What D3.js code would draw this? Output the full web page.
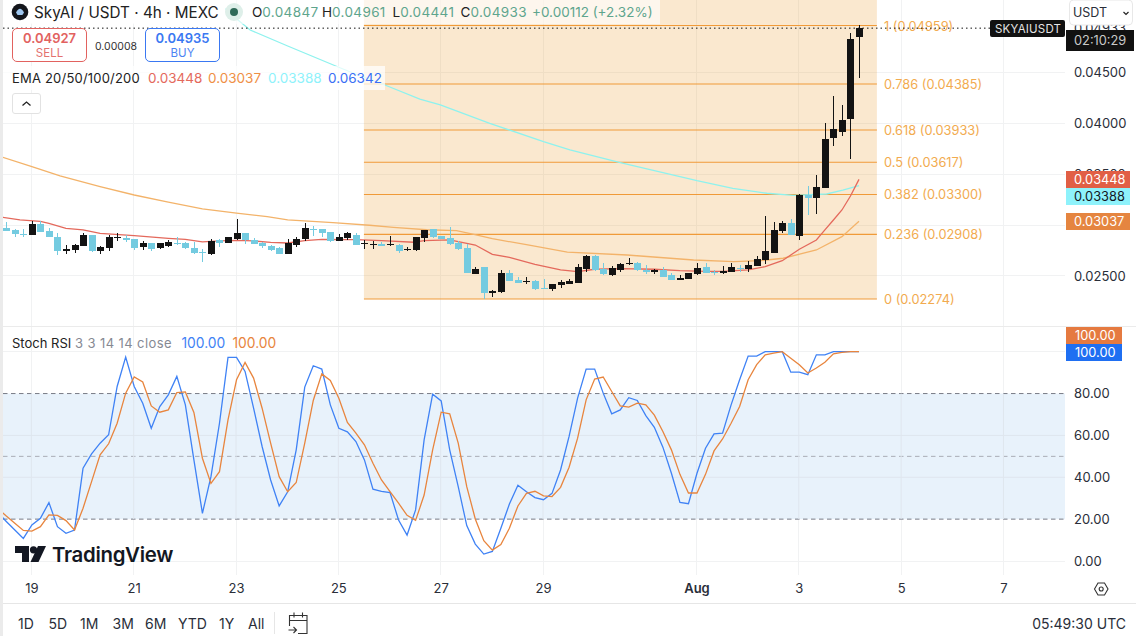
<!DOCTYPE html>
<html><head><meta charset="utf-8">
<script src="https://cdn.jsdelivr.net/npm/d3@7/dist/d3.min.js"></script>
<style>
html,body{margin:0;padding:0;background:#fff;overflow:hidden}
text{font-family:Inter,"Liberation Sans",sans-serif}
.axis text{font-family:Inter,"Liberation Sans",sans-serif}
</style></head><body><div id="chart"></div>
<script>
// ---- candle data (4h candles, index 0 = first visible bar) ----
const opens=[.02971,.02952,.02912,.02902,.03010,.02942,.02883,.02745,.02755,.02794,.02902,.02745,.02775,.02873,.02873,.02863,.02785,.02824,.02775,.02794,.02824,.02824,.02775,.02736,.02716,.02853,.02824,.02863,.02922,.02853,.02824,.02794,.02775,.02716,.02804,.02863,.02961,.02961,.02932,.02844,.02873,.02902,
.02814,.02808,.02814,.02804,.02804,.02755,.02755,.02873,.02961,.02893,.02873,.02824,.02775,.02520,.02588,.02333,.02343,.02530,.02461,.02441,.02451,.02382,.02373,.02412,.02422,.02431,.02569,.02696,.02569,.02510,.02559,.02618,.02628,.02559,.02539,.02559,.02510,.02461,.02471,.02520,.02588,
.02539,.02529,.02539,.02578,.02569,.02598,.02657,.02726,.02942,.03020,.02893,.03295,.03266,.03364,.03855,.03913,.04041,.04847];
const highs=[.03030,.02958,.02961,.03040,.03040,.02971,.02922,.02804,.02814,.02922,.02902,.02794,.02902,.02922,.02902,.02863,.02844,.02824,.02824,.02853,.02883,.02834,.02834,.02765,.02863,.02863,.02883,.03059,.02922,.02873,.02834,.02804,.02785,.02863,.02883,.03020,.02991,.02961,.02932,.02912,.02932,.02922,
.02854,.02844,.02834,.02893,.02814,.02785,.02883,.02952,.02961,.02893,.02981,.02844,.02814,.02588,.02588,.02363,.02559,.02559,.02490,.02490,.02461,.02471,.02422,.02461,.02471,.02618,.02706,.02706,.02628,.02598,.02628,.02677,.02638,.02608,.02569,.02588,.02530,.02510,.02530,.02628,.02628,
.02559,.02598,.02628,.02608,.02647,.02696,.03089,.03030,.03040,.03059,.03305,.03383,.03491,.04002,.04267,.04178,.04885,.04961];
const lows=[.02942,.02886,.02886,.02902,.02932,.02883,.02706,.02716,.02726,.02794,.02736,.02716,.02745,.02844,.02834,.02755,.02755,.02745,.02765,.02785,.02804,.02765,.02716,.02637,.02706,.02785,.02824,.02853,.02814,.02814,.02775,.02745,.02716,.02716,.02785,.02844,.02893,.02883,.02834,.02844,.02853,.02804,
.02765,.02765,.02795,.02795,.02726,.02746,.02746,.02834,.02873,.02863,.02804,.02755,.02530,.02520,.02274,.02294,.02333,.02451,.02431,.02422,.02363,.02373,.02353,.02382,.02422,.02431,.02539,.02549,.02510,.02500,.02539,.02608,.02549,.02520,.02520,.02490,.02461,.02461,.02471,.02510,.02530,
.02510,.02520,.02539,.02539,.02539,.02598,.02618,.02726,.02922,.02902,.02853,.03099,.03109,.03364,.03776,.03874,.03648,.04441];
const closes=[.02942,.02912,.02906,.03010,.02932,.02883,.02745,.02765,.02804,.02902,.02745,.02785,.02883,.02883,.02853,.02775,.02824,.02765,.02824,.02834,.02814,.02775,.02726,.02726,.02844,.02824,.02883,.02922,.02853,.02814,.02794,.02755,.02716,.02824,.02863,.02971,.02952,.02922,.02844,.02883,.02922,.02804,
.02824,.02814,.02795,.02814,.02746,.02765,.02883,.02952,.02883,.02863,.02814,.02765,.02530,.02569,.02333,.02353,.02530,.02451,.02431,.02451,.02373,.02373,.02422,.02441,.02451,.02588,.02696,.02559,.02520,.02579,.02618,.02628,.02559,.02539,.02559,.02490,.02461,.02481,.02530,.02579,.02530,
.02529,.02549,.02588,.02569,.02608,.02667,.02745,.02951,.03020,.02902,.03295,.03266,.03374,.03845,.03943,.04031,.04826,.04933];

// ---- moving averages: readings at selected bars ----
const ema20Bars=[-0.4,1.6,4,5,7,9,11,15,19,21,23,25,27,29,31,33,35,37,41,44,47.8,49,52,55,57,59,62,65,67,69,72,76,79,82,84,87,89,91,93,95,96,97,98,99,100];
const ema20=[.03076,.03050,.03037,.03017,.02968,.02952,.02919,.02896,.02870,.02860,.02834,.02844,.02850,.02844,.02830,.02824,.02847,.02860,.02857,.02847,.02831,.02847,.02854,.02804,.02713,.02683,.02615,.02559,.02543,.02566,.02572,.02566,.02552,.02546,.02546,.02559,.02592,.02650,.02762,.02853,.02952,.03050,.03148,.03285,.03448];
const ema50Bars=[-0.4,3,6.3,11,15,19,23,27,30.6,33,38.3,42.6,45.4,49.3,52.8,54.7,57,61,65.8,72.8,80.6,85.3,88.4,91.1,95,98,100];
const ema50=[.03665,.03573,.03482,.03377,.03295,.03226,.03158,.03118,.03082,.03050,.03023,.02998,.02978,.02954,.02945,.02912,.02866,.02807,.02735,.02706,.02657,.02640,.02650,.02674,.02755,.02886,.03037];
const ema100Bars=[25.6,26.2,28.6,33,39.2,40.3,44.4,48.5,50.9,56.7,63,66.1,72,81,85.2,89.2,92.3,96.2,98.1,100];
const ema100=[.05130,.05079,.04915,.04758,.04542,.04505,.04375,.04237,.04179,.03999,.03818,.03737,.03612,.03435,.03361,.03312,.03292,.03305,.03344,.03388];

// ---- Stoch RSI, starting one bar before the first visible bar ----
const stochK=[23.1,18.9,14.8,10.8,17.2,20.4,27.9,16.4,13.2,14.8,44.3,51.2,56.3,60.3,83.4,97.4,83.4,75.4,63.4,73.8,79.4,88.2,74.6,48.3,22.8,40.3,65.8,97.3,97.3,90.6,73.0,54.7,38.7,26.3,33.1,53.1,83.1,93.3,91.7,74.6,63.4,61.7,57.1,48.3,34.3,33.3,32.7,19.6,12.4,24.4,57.9,79.7,76.5,53.1,35.5,16.9,8.1,3.3,4.6,15.6,27.2,36.2,33.1,30.3,29.3,32.3,43.5,59.5,77.8,91.7,91.7,80.2,70.3,72.2,78.0,76.7,69.5,63.9,54.4,41.9,28.0,27.4,41.9,53.9,60.7,61.1,74.6,86.6,97.9,97.9,100,100,100,90.2,90.2,89.0,98.5,98.5,100,100,100,100];
const stochD=[25.2,21.5,18.0,14.6,14.3,16.4,22.0,21.8,19.3,14.8,25.2,37.9,50.7,56.0,65.8,80.2,87.9,85.5,74.1,71.1,72.2,80.5,80.8,71.0,49.1,37.1,42.7,67.4,86.6,94.9,87.4,73.0,56.3,40.3,33.1,37.5,56.3,76.7,89.4,86.3,77.8,66.2,61.1,55.5,46.7,38.7,33.1,27.6,21.8,19.4,31.5,53.1,71.1,70.3,56.3,35.5,20.1,9.7,5.2,7.9,15.6,26.3,32.3,33.3,31.1,30.8,35.2,44.8,58.7,77.0,86.9,87.9,81.0,74.1,73.5,75.4,74.6,69.7,61.9,53.1,41.4,32.5,32.5,41.4,52.6,58.3,65.8,73.8,86.6,93.8,98.5,99.3,100,96.9,93.8,89.8,92.2,95.0,99.0,99.7,100,100];

// ---- fibonacci retracement ----
const fibRatios=[1,0.786,0.618,0.5,0.382,0.236,0];
const fibPrices=[.04959,.04385,.03933,.03617,.03300,.02908,.02274];
const fibLabels=["1","0.786","0.618","0.5","0.382","0.236","0"];

// ---- ticks and labels ----
const priceTicks=[.025,.03,.035,.04,.045];
const hiddenPriceLabels=[.03];
const stochTicks=[0,20,40,60,80];
const dayBars=[3,15,27,39,51,63,81,93,105,117];
const dayLabels=["19","21","23","25","27","29","Aug","3","5","7"];
const ranges=["1D","5D","1M","3M","6M","YTD","1Y","All"];
const emaLegend=["0.03448","0.03037","0.03388","0.06342"];

const W=1136,H=636,L=3,R=1065;
const C={up:"#131313",down:"#74cbe0",grid:"#f1f2f3",fib:"#f09a38",fibText:"#f2ab4f",red:"#e4695c",org:"#f3b36a",cyan:"#8ef2ee",blue:"#3f82f5",orange:"#e8853e",text:"#2a2e39",green:"#5ea58d"};

const x=d3.scaleLinear().domain([0,100]).range([6.3,859]);
const y=d3.scaleLinear().domain([.02274,.04959]).range([299,25.5]);
const ys=d3.scaleLinear().domain([0,100]).range([561,351.7]);

const svg=d3.select("#chart").append("svg").attr("width",W).attr("height",H).style("display","block");
const defs=svg.append("defs");
defs.append("clipPath").attr("id","cp").append("rect").attr("x",L).attr("y",0).attr("width",R-L).attr("height",326);
defs.append("clipPath").attr("id","cs").append("rect").attr("x",L).attr("y",327).attr("width",R-L).attr("height",250);

svg.append("rect").attr("width",W).attr("height",H).attr("fill","#fff");
svg.append("rect").attr("width",L).attr("height",H).attr("fill","#ebebeb");

// grid
const grid=svg.append("g").attr("stroke",C.grid).attr("stroke-width",1).attr("shape-rendering","crispEdges");
dayBars.forEach(b=>grid.append("line").attr("x1",x(b)-.5).attr("x2",x(b)-.5).attr("y1",0).attr("y2",575));
priceTicks.forEach(t=>grid.append("line").attr("x1",L).attr("x2",R).attr("y1",y(t)).attr("y2",y(t)));
[0,40,60,100].forEach(t=>grid.append("line").attr("x1",L).attr("x2",R).attr("y1",ys(t)).attr("y2",ys(t)));
svg.append("line").attr("x1",L).attr("x2",W).attr("y1",326.5).attr("y2",326.5).attr("stroke","#ebebeb");
svg.append("line").attr("x1",L).attr("x2",W).attr("y1",603.5).attr("y2",603.5).attr("stroke","#e6e6e6");

// fib
const fx0=x(42)-.5,fx1=x(102.1);
svg.append("rect").attr("x",fx0).attr("y",0).attr("width",fx1-fx0).attr("height",y(.02274)).attr("fill","rgba(233,152,40,.223)");
const fib=svg.append("g");
fibPrices.forEach((p,i)=>{
  fib.append("line").attr("x1",fx0).attr("x2",fx1).attr("y1",y(p)).attr("y2",y(p)).attr("stroke",C.fib).attr("stroke-width",1.1);
  fib.append("text").attr("x",884).attr("y",y(p)+5).attr("font-size",12.8).attr("fill",C.fibText)
    .text(`${fibLabels[i]} (${p.toFixed(5)})`);
});

// moving averages
const pane=svg.append("g").attr("clip-path","url(#cp)");
function avg(bars,vals,col,w){
  pane.append("path").attr("fill","none").attr("stroke",col).attr("stroke-width",w)
   .attr("d",d3.line().x(d=>x(d[0])).y(d=>y(d[1]))(bars.map((b,i)=>[b,vals[i]])));
}
avg(ema100Bars,ema100,C.cyan,1.3);
avg(ema50Bars,ema50,C.org,1.3);
avg(ema20Bars,ema20,C.red,1.3);

// candles
const cw=7;
const cg=pane.append("g").attr("shape-rendering","crispEdges");
closes.forEach((c,i)=>{
  const o=opens[i],col=c>=o?C.up:C.down,cx=Math.round(x(i));
  cg.append("line").attr("x1",cx+.5).attr("x2",cx+.5).attr("y1",y(highs[i])).attr("y2",y(lows[i])).attr("stroke",col).attr("stroke-width",1);
  const t=y(Math.max(o,c)),b=y(Math.min(o,c));
  cg.append("rect").attr("x",cx-3).attr("width",cw).attr("y",t).attr("height",Math.max(1,b-t)).attr("fill",col);
});

// last price line
svg.append("line").attr("x1",L).attr("x2",990).attr("y1",y(.04933)).attr("y2",y(.04933))
  .attr("stroke","#111").attr("stroke-width",1).attr("stroke-dasharray","1.5 3");

// stoch pane
svg.append("rect").attr("x",L).attr("width",R-L).attr("y",ys(80)).attr("height",ys(20)-ys(80)).attr("fill","#e8f2fb");
[[80,"#787b86"],[50,"#a9adb5"],[20,"#787b86"]].forEach(([v,col])=>
  svg.append("line").attr("x1",L).attr("x2",R).attr("y1",ys(v)).attr("y2",ys(v)).attr("stroke",col).attr("stroke-dasharray","4.5 3.5"));
[40,60].forEach(t=>svg.append("line").attr("x1",L).attr("x2",R).attr("y1",ys(t)).attr("y2",ys(t)).attr("stroke","#dfe6ee"));
dayBars.forEach(b=>svg.append("line").attr("x1",x(b)-.5).attr("x2",x(b)-.5).attr("y1",ys(80)).attr("y2",ys(20)).attr("stroke","#dfe6ee"));
const sp=svg.append("g").attr("clip-path","url(#cs)");
const sl=d3.line().x((d,i)=>x(i-1)).y(d=>ys(d));
sp.append("path").attr("d",sl(stochK)).attr("fill","none").attr("stroke",C.blue).attr("stroke-width",1.3);
sp.append("path").attr("d",sl(stochD)).attr("fill","none").attr("stroke",C.orange).attr("stroke-width",1.3);

// axes
function styleAxis(g){g.select(".domain").remove();g.selectAll("line").remove();
  g.selectAll("text").attr("fill",C.text).attr("font-size",13).attr("font-family","Inter");}
svg.append("g").attr("class","axis").attr("transform","translate(1066,0)")
  .call(d3.axisRight(y).tickValues(priceTicks).tickFormat(d=>hiddenPriceLabels.includes(d)?"":d3.format(".5f")(d)).tickSize(0).tickPadding(8)).call(styleAxis);
svg.append("text").attr("x",1074).attr("y",33).attr("font-size",13).attr("fill",C.text).text("0.04933");
svg.append("g").attr("class","axis").attr("transform","translate(1066,0)")
  .call(d3.axisRight(ys).tickValues(stochTicks).tickFormat(d3.format(".2f")).tickSize(0).tickPadding(8)).call(styleAxis);
svg.append("g").attr("class","axis").attr("transform","translate(-0.5,584)")
  .call(d3.axisBottom(x).tickValues(dayBars).tickFormat((d,i)=>dayLabels[i]).tickSize(0).tickPadding(0)).call(styleAxis)
  .selectAll("text").attr("dy","0.71em").filter((d,i)=>dayLabels[i]==="Aug").attr("font-weight",600);

// price tags
function tag(x0,y0,w,h,bg,fg,t,tx){
  svg.append("rect").attr("x",x0).attr("y",y0).attr("width",w).attr("height",h).attr("fill",bg);
  svg.append("text").attr("x",tx).attr("y",y0+h/2+4.6).attr("font-size",12.8).attr("fill",fg).text(t);
}
tag(1066,30,68,21,"#111","#c9c9c9","02:10:29",1074);
tag(1066,171,64,17,"#e15f45","#fff","0.03448",1074);
tag(1066,188,64,17,"#8ef2fb","#131722","0.03388",1074);
tag(1066,213,64,17,"#e58540","#fff","0.03037",1074);
tag(1066,327,56,17,"#e57a40","#fff","100.00",1075);
tag(1066,344,56,17,"#1f6ff2","#fff","100.00",1075);
svg.append("rect").attr("x",990).attr("y",20).attr("width",75).attr("height",17).attr("rx",2).attr("fill","#111");
svg.append("text").attr("x",995).attr("y",33).attr("font-size",11.5).attr("fill","#e4e4e4").attr("letter-spacing",.2).text("SKYAIUSDT");

// currency select
svg.append("rect").attr("x",1069.5).attr("y",0).attr("width",63).attr("height",25).attr("rx",4).attr("fill","#fff").attr("stroke","#e8e8e8");
svg.append("text").attr("x",1073).attr("y",17).attr("font-size",12.5).attr("fill",C.text).text("USDT");
svg.append("path").attr("d","M1123.5 12l2.5 2.5 2.5-2.5").attr("fill","none").attr("stroke","#222").attr("stroke-width",1.2);

// header legend
svg.append("rect").attr("x",L).attr("y",0).attr("width",657).attr("height",24).attr("fill","#fff").attr("opacity",.62);
svg.append("rect").attr("x",L).attr("y",0).attr("width",222).attr("height",23).attr("fill","#fff");
svg.append("circle").attr("cx",20).attr("cy",12).attr("r",8.3).attr("fill","#14161c");
svg.append("path").attr("d","M16 12.5q4-7.5 8 0l-1.6 2.5h-4.8z").attr("fill","#9fc7f0");
svg.append("text").attr("x",34).attr("y",17.5).attr("font-size",15.25).attr("fill","#222").text("SkyAI / USDT · 4h · MEXC");
svg.append("circle").attr("cx",234).attr("cy",12).attr("r",9).attr("fill","#deefe9");
svg.append("circle").attr("cx",234).attr("cy",12).attr("r",4).attr("fill","#2f6a58");
[["O","0.04847",252],["H","0.04961",322],["L","0.04441",392.5],["C","0.04933",460.5]].forEach(([a,b,px])=>{
  const t=svg.append("text").attr("x",px).attr("y",17).attr("font-size",13.5);
  t.append("tspan").attr("fill","#222").text(a);
  t.append("tspan").attr("fill",C.green).attr("letter-spacing",.35).text(b);
});
svg.append("text").attr("x",532).attr("y",17).attr("font-size",13.5).attr("fill",C.green).text("+0.00112 (+2.32%)");

// buy/sell
function box(x0,col,a,b){
  svg.append("rect").attr("x",x0).attr("y",28.5).attr("width",74).attr("height",33).attr("rx",4.5).attr("fill","#fff").attr("stroke",col);
  svg.append("text").attr("x",x0+37).attr("y",43).attr("text-anchor","middle").attr("font-size",13).attr("font-weight",600).attr("fill",col).text(a);
  svg.append("text").attr("x",x0+37).attr("y",56.5).attr("text-anchor","middle").attr("font-size",11.5).attr("fill",col).attr("opacity",.9).text(b);
}
box(12.5,"#e2625f","0.04927","SELL");
box(145.5,"#3a78f2","0.04935","BUY");
svg.append("text").attr("x",95).attr("y",49.5).attr("font-size",10.5).attr("fill","#333").text("0.00008");

// EMA legend
svg.append("rect").attr("x",L).attr("y",66).attr("width",382).attr("height",24).attr("fill","#fff").attr("opacity",.72);
svg.append("text").attr("x",12).attr("y",83).attr("font-size",13).attr("letter-spacing",.2).attr("fill","#222").text("EMA 20/50/100/200");
[C.red,"#ef8f45","#8ef2fb","#3a6ff5"].forEach((c,i)=>
  svg.append("text").attr("x",148+i*60).attr("y",83).attr("font-size",13.5).attr("fill",c).text(emaLegend[i]));
svg.append("rect").attr("x",12.5).attr("y",93.5).attr("width",28).attr("height",20).attr("rx",2.5).attr("fill","#fff").attr("stroke","#e2e2e2");
svg.append("path").attr("d","M22.5 105.5l4-3.5 4 3.5").attr("fill","none").attr("stroke","#222").attr("stroke-width",1.3);

// stoch legend
svg.append("text").attr("x",12).attr("y",348).attr("font-size",13).attr("fill","#222").text("Stoch RSI");
svg.append("text").attr("x",75).attr("y",348).attr("font-size",13).attr("letter-spacing",.4).attr("fill","#868993").text("3 3 14 14 close");
svg.append("text").attr("x",181.5).attr("y",348).attr("font-size",13.8).attr("fill",C.blue).text("100.00");
svg.append("text").attr("x",232.5).attr("y",348).attr("font-size",13.8).attr("fill",C.orange).text("100.00");

// TradingView mark
svg.append("path").attr("d","M15 546h14v16h-7v-9h-7zM46 546l-7.5 16h-8l7.500-16z").attr("fill","#131722");
svg.append("circle").attr("cx",33.500).attr("cy",549.800).attr("r",3.600).attr("fill","#131722");
svg.append("text").attr("x",52).attr("y",561.500).attr("font-size",20.4).attr("font-weight",600).attr("fill","#131722").attr("letter-spacing",-.3).text("TradingView");

// settings icon
svg.append("path").attr("d","M1094.500 589l3.500-6h6.500l3.500 6-3.500 6h-6.500z").attr("fill","none").attr("stroke","#333").attr("stroke-width",1.1);
svg.append("circle").attr("cx",1101.200).attr("cy",589).attr("r",2).attr("fill","none").attr("stroke","#333").attr("stroke-width",1.1);

// bottom bar
const rangeX=[18,48.500,80,112.500,145,178,219,248];
ranges.forEach((r,i)=>svg.append("text").attr("x",rangeX[i]).attr("y",629).attr("font-size",14).attr("fill",C.text).text(r));
svg.append("line").attr("x1",274.500).attr("x2",274.500).attr("y1",612).attr("y2",634).attr("stroke","#e6e6e6");
svg.append("path").attr("d","M289.500 626v-10.500h17.500v18h-9M294 612.500v5M302.500 612.500v5M289.500 620.500h17.500M288.500 630h8M293.500 627l3 3-3 3").attr("fill","none").attr("stroke","#333").attr("stroke-width",1.1);
svg.append("text").attr("x",1126).attr("y",629).attr("text-anchor","end").attr("font-size",14).attr("fill",C.text).text("05:49:30 UTC");
</script></body></html>
